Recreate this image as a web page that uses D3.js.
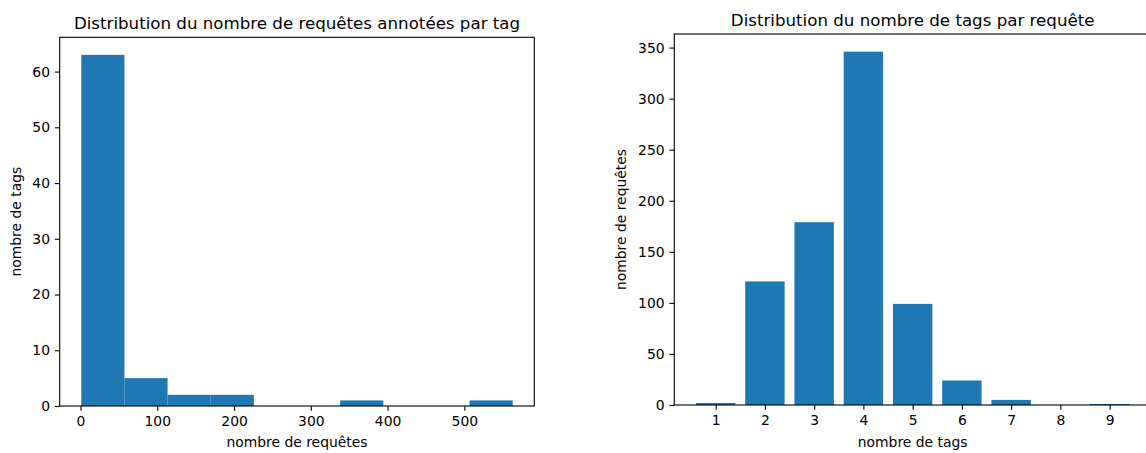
<!DOCTYPE html>
<html>
<head>
<meta charset="utf-8">
<script src="https://cdn.jsdelivr.net/npm/d3@7"></script>
<style>
  body { margin: 0; background: #fff; overflow: hidden; }
  svg { display: block; }
  text { font-family: "DejaVu Sans", sans-serif; fill: #000; }
</style>
</head>
<body>
<svg id="chart" width="1146" height="453"></svg>
<script>
// left: histogram of requests per tag (10 bins)
var histEdges = [1, 57.2, 113.4, 169.6, 225.8, 282, 338.2, 394.4, 450.6, 506.8, 563];
var histCounts = [63, 5, 2, 2, 0, 0, 1, 0, 0, 1];
var histXTicks = [0, 100, 200, 300, 400, 500];
var histYTicks = [0, 10, 20, 30, 40, 50, 60];

// right: number of tags per request
var tagCounts = [1, 2, 3, 4, 5, 6, 7, 8, 9];
var requestCounts = [2, 121, 179, 346, 99, 24, 5, 0, 1];
var barYTicks = [0, 50, 100, 150, 200, 250, 300, 350];

var BLUE = "#1f77b4";
var TICK = 4.86, PAD = 4.86;

var svg = d3.select("#chart");

function drawFrame(g, box, title, xLabel, yLabel, yLabelX, visRight) {
	g.append("rect")
		.attr("x", box.x0).attr("y", box.y0)
		.attr("width", box.x1 - box.x0).attr("height", box.y1 - box.y0)
		.attr("fill", "none").attr("stroke", "#000").attr("stroke-width", 1.1);

	// the figure is cropped on the right, so centre texts on the visible axes span
	var cx = (box.x0 + Math.min(box.x1, visRight || box.x1)) / 2;
	g.append("text")
		.attr("x", (box.x0 + box.x1) / 2).attr("y", box.y0 - 8.5)
		.attr("text-anchor", "middle").style("font-size", "16.67px")
		.text(title);

	g.append("text")
		.attr("x", (box.x0 + box.x1) / 2).attr("y", 447)
		.attr("text-anchor", "middle").style("font-size", "13.9px")
		.text(xLabel);

	g.append("text")
		.attr("transform", "translate(" + yLabelX + "," + ((box.y0 + box.y1) / 2) + ") rotate(-90)")
		.attr("text-anchor", "middle").style("font-size", "13.9px")
		.text(yLabel);
}

function styleAxis(ax) {
	ax.select(".domain").remove();
	ax.selectAll(".tick line").attr("stroke", "#000").attr("stroke-width", 1.1);
	ax.selectAll(".tick text").style("font-size", "13.9px").style("font-family", "DejaVu Sans, sans-serif").attr("fill", "#000");
}

// ---------- left histogram ----------
(function() {
	var box = {x0: 59.7, x1: 534.3, y0: 37.3, y1: 406};
	var lo = d3.min(histEdges), hi = d3.max(histEdges), m = (hi - lo) * 0.05;
	var x = d3.scaleLinear().domain([lo - m, hi + m]).range([box.x0, box.x1]);
	var y = d3.scaleLinear().domain([0, d3.max(histCounts) * 1.05]).range([box.y1, box.y0]);
	var g = svg.append("g");

	g.selectAll("rect.bar")
		.data(histCounts)
		.enter().append("rect")
		.attr("class", "bar")
		.attr("x", function(d, i) { return x(histEdges[i]); })
		.attr("width", function(d, i) { return x(histEdges[i + 1]) - x(histEdges[i]); })
		.attr("y", function(d) { return y(d); })
		.attr("height", function(d) { return y(0) - y(d); })
		.attr("fill", BLUE);

	var xa = g.append("g").attr("transform", "translate(0," + box.y1 + ")")
		.call(d3.axisBottom(x).tickValues(histXTicks).tickSize(TICK).tickPadding(PAD).tickSizeOuter(0));
	styleAxis(xa);
	var ya = g.append("g").attr("transform", "translate(" + box.x0 + ",0)")
		.call(d3.axisLeft(y).tickValues(histYTicks).tickSize(TICK).tickPadding(PAD).tickSizeOuter(0));
	styleAxis(ya);

	drawFrame(g, box, "Distribution du nombre de requêtes annotées par tag",
		"nombre de requêtes", "nombre de tags", 21);
})();

// ---------- right bar chart ----------
(function() {
	var box = {x0: 674.3, x1: 1151, y0: 34, y1: 405};
	var lo = d3.min(tagCounts) - 0.4, hi = d3.max(tagCounts) + 0.4, m = (hi - lo) * 0.05;
	var x = d3.scaleLinear().domain([lo - m, hi + m]).range([box.x0, box.x1]);
	var y = d3.scaleLinear().domain([0, d3.max(requestCounts) * 1.05]).range([box.y1, box.y0]);
	var g = svg.append("g");

	g.selectAll("rect.bar")
		.data(requestCounts)
		.enter().append("rect")
		.attr("class", "bar")
		.attr("x", function(d, i) { return x(tagCounts[i] - 0.4); })
		.attr("width", function(d, i) { return x(tagCounts[i] + 0.4) - x(tagCounts[i] - 0.4); })
		.attr("y", function(d) { return y(d); })
		.attr("height", function(d) { return y(0) - y(d); })
		.attr("fill", BLUE);

	var xa = g.append("g").attr("transform", "translate(0," + box.y1 + ")")
		.call(d3.axisBottom(x).tickValues(tagCounts).tickFormat(d3.format("d")).tickSize(TICK).tickPadding(PAD).tickSizeOuter(0));
	styleAxis(xa);
	var ya = g.append("g").attr("transform", "translate(" + box.x0 + ",0)")
		.call(d3.axisLeft(y).tickValues(barYTicks).tickSize(TICK).tickPadding(PAD).tickSizeOuter(0));
	styleAxis(ya);

	drawFrame(g, box, "Distribution du nombre de tags par requête",
		"nombre de tags", "nombre de requêtes", 626);
})();
</script>
</body>
</html>
